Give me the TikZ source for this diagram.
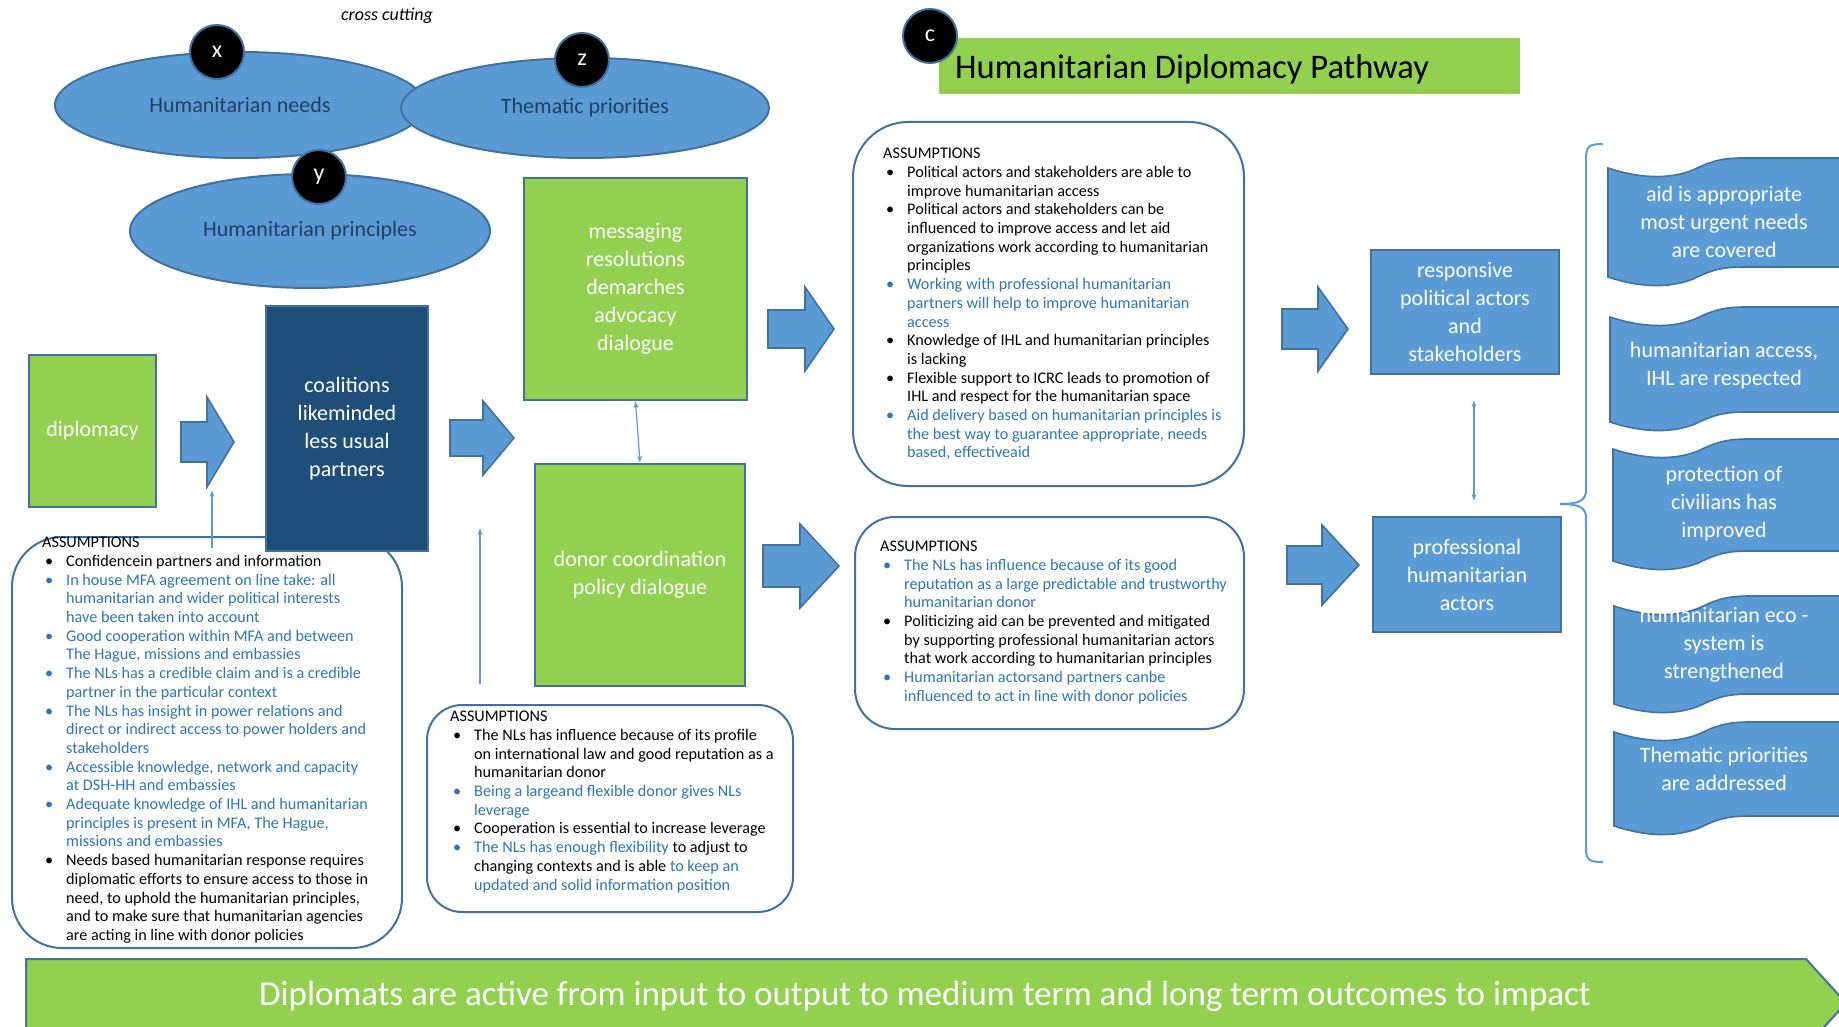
\documentclass[tikz,border=0pt]{standalone}
\usepackage{fontspec}
\setmainfont{Carlito}
\usepackage{xcolor}
\usepackage{tikz}
\usetikzlibrary{arrows}
\usetikzlibrary{shapes}
\usetikzlibrary{calc}
\usetikzlibrary{positioning}

\definecolor{hdgreen}{HTML}{92D050}
\definecolor{hdblue}{HTML}{5B9BD5}
\definecolor{hdedge}{HTML}{41719C}
\definecolor{hdnavy}{HTML}{1F4E79}
\definecolor{hdtext}{HTML}{2E75B6}
\definecolor{hdink}{HTML}{223F63}

\newcommand\boxfont{\fontsize{22}{28}\selectfont}
\newcommand\ellfont{\fontsize{22}{26}\selectfont}
\newcommand\asmfont{\fontsize{16.2}{18.7}\selectfont}
\newcommand\asmitem[2]{\hspace*{3pt}\makebox[21pt][l]{\textcolor{#1}{\textbullet}}\textcolor{#1}{#2}}
\newcommand\asmcont[2]{\hspace*{24pt}\textcolor{#1}{#2}}

\tikzset{
  greenbox/.style={rectangle, draw=hdedge, line width=2pt, fill=hdgreen, text=white, align=center, font=\boxfont, inner sep=0pt},
  navybox/.style={greenbox, fill=hdnavy},
  bluebox/.style={greenbox, fill=hdblue},
  crossell/.style={ellipse, draw=hdedge, line width=2pt, fill=hdblue, text=hdink, font=\ellfont, inner sep=0pt},
  letterdot/.style={circle, draw=hdedge, line width=2pt, fill=black, text=white, minimum size=54pt, inner sep=0pt, font=\fontsize{24}{26}\selectfont},
  asmbox/.style={rectangle, draw=hdedge, line width=2pt, fill=white},
  asmtext/.style={anchor=north west, align=left, inner sep=0pt, font=\asmfont},
  fatarr/.style={draw=hdedge, line width=1.6pt, fill=hdblue, line join=miter},
  wave/.style={draw=hdedge, line width=1.6pt, fill=hdblue},
  thinarr/.style={->, draw=hdblue, line width=1.2pt},
}

\begin{document}
\begin{tikzpicture}[x=1pt, y=-1pt, >=latex]
\useasboundingbox (0,0) rectangle (1839,1027);
\clip (0,0) rectangle (1839,1027);

%impact banner
\draw[fill=hdgreen, draw=hdedge, line width=2pt] (26,959) -- (1806,959) -- (1846,1003) -- (1806,1047) -- (26,1047) -- cycle;
\node[text=white, font=\fontsize{35}{40}\selectfont] (impact) at (925,996) {Diplomats are active from input to output to medium term and long term outcomes to impact};

%assumptions
\node[asmbox, rounded corners=50pt, minimum width=390pt, minimum height=411pt] (asm1) at (207,742.5) {};
\node[asmtext] (asm1txt) at (42,537) {ASSUMPTIONS\\
  \asmitem{black}{Confidencein partners and information}\\
  \asmitem{hdtext}{In house MFA agreement on line take: all}\\
  \asmcont{hdtext}{humanitarian and wider political interests}\\
  \asmcont{hdtext}{have been taken into account}\\
  \asmitem{hdtext}{Good cooperation within MFA and between}\\
  \asmcont{hdtext}{The Hague, missions and embassies}\\
  \asmitem{hdtext}{The NLs has a credible claim and is a credible}\\
  \asmcont{hdtext}{partner in the particular context}\\
  \asmitem{hdtext}{The NLs has insight in power relations and}\\
  \asmcont{hdtext}{direct or indirect access to power holders and}\\
  \asmcont{hdtext}{stakeholders}\\
  \asmitem{hdtext}{Accessible knowledge, network and capacity}\\
  \asmcont{hdtext}{at DSH-HH and embassies}\\
  \asmitem{hdtext}{Adequate knowledge of IHL and humanitarian}\\
  \asmcont{hdtext}{principles is present in MFA, The Hague,}\\
  \asmcont{hdtext}{missions and embassies}\\
  \asmitem{black}{Needs based humanitarian response requires}\\
  \asmcont{black}{diplomatic efforts to ensure access to those in}\\
  \asmcont{black}{need, to uphold the humanitarian principles,}\\
  \asmcont{black}{and to make sure that humanitarian agencies}\\
  \asmcont{black}{are acting in line with donor policies}};

\node[asmbox, rounded corners=35pt, minimum width=366pt, minimum height=207pt] (asm2) at (610,808.5) {};
\node[asmtext] (asm2txt) at (450,711) {ASSUMPTIONS\\
  \asmitem{black}{The NLs has influence because of its profile}\\
  \asmcont{black}{on international law and good reputation as a}\\
  \asmcont{black}{humanitarian donor}\\
  \asmitem{hdtext}{Being a largeand flexible donor gives NLs}\\
  \asmcont{hdtext}{leverage}\\
  \asmitem{black}{Cooperation is essential to increase leverage}\\
  \asmitem{hdtext}{The NLs has enough flexibility}\ \textcolor{black}{to adjust to}\\
  \asmcont{black}{changing contexts and is able}\ \textcolor{hdtext}{to keep an}\\
  \asmcont{hdtext}{updated and solid information position}};

\node[asmbox, rounded corners=55pt, minimum width=391pt, minimum height=364pt] (asm3) at (1048.5,304) {};
\node[asmtext] (asm3txt) at (883,148) {ASSUMPTIONS\\
  \asmitem{black}{Political actors and stakeholders are able to}\\
  \asmcont{black}{improve humanitarian access}\\
  \asmitem{black}{Political actors and stakeholders can be}\\
  \asmcont{black}{influenced to improve access and let aid}\\
  \asmcont{black}{organizations work according to humanitarian}\\
  \asmcont{black}{principles}\\
  \asmitem{hdtext}{Working with professional humanitarian}\\
  \asmcont{hdtext}{partners will help to improve humanitarian}\\
  \asmcont{hdtext}{access}\\
  \asmitem{black}{Knowledge of IHL and humanitarian principles}\\
  \asmcont{black}{is lacking}\\
  \asmitem{black}{Flexible support to ICRC leads to promotion of}\\
  \asmcont{black}{IHL and respect for the humanitarian space}\\
  \asmitem{hdtext}{Aid delivery based on humanitarian principles is}\\
  \asmcont{hdtext}{the best way to guarantee appropriate, needs}\\
  \asmcont{hdtext}{based, effectiveaid}};

\node[asmbox, rounded corners=40pt, minimum width=389pt, minimum height=212pt] (asm4) at (1049.5,623) {};
\node[asmtext] (asm4txt) at (880,541) {ASSUMPTIONS\\
  \asmitem{hdtext}{The NLs has influence because of its good}\\
  \asmcont{hdtext}{reputation as a large predictable and trustworthy}\\
  \asmcont{hdtext}{humanitarian donor}\\
  \asmitem{black}{Politicizing aid can be prevented and mitigated}\\
  \asmcont{black}{by supporting professional humanitarian actors}\\
  \asmcont{black}{that work according to humanitarian principles}\\
  \asmitem{hdtext}{Humanitarian actorsand partners canbe}\\
  \asmcont{hdtext}{influenced to act in line with donor policies}};

%cross cutting
\node[font=\fontsize{18}{21}\selectfont\itshape] (cross) at (387,16) {cross cutting};
\node[crossell, minimum width=370pt, minimum height=106pt] (needs) at (240,105) {Humanitarian needs};
\node[crossell, minimum width=368pt, minimum height=100pt] (thematic) at (585,108) {Thematic priorities};
\node[crossell, minimum width=360pt, minimum height=114pt] (principles) at (310,231) {Humanitarian principles};
\node[letterdot] (dotx) at (217,52) {x};
\node[letterdot] (dotz) at (582,60) {z};
\node[letterdot] (doty) at (319,177) {y};

%pathway boxes
\node[greenbox, minimum width=127pt, minimum height=152pt] (diplomacy) at (92.5,431) {diplomacy};
\node[navybox, minimum width=162pt, minimum height=245pt] (coalitions) at (347,428.5) {coalitions\\likeminded\\less usual\\partners};
\node[greenbox, minimum width=223pt, minimum height=222pt] (messaging) at (635.5,289) {messaging\\resolutions\\demarches\\advocacy\\dialogue};
\node[greenbox, minimum width=210pt, minimum height=222pt] (donor) at (640,575) {donor coordination\\policy dialogue};
\node[bluebox, minimum width=188pt, minimum height=124pt] (responsive) at (1465,312) {responsive\\political actors\\and\\stakeholders};
\node[bluebox, minimum width=188pt, minimum height=115pt] (professional) at (1467,574.5) {professional\\humanitarian\\actors};

%fat arrows
\foreach \xl/\xh/\xt/\yc/\sh/\hh in {181/207/234/442/20/45, 450/483/514/438/18/37, 768/805/834/329/19/42,
    763/800/839/566/21/42, 1282/1318/1348/329/20/42, 1287/1322/1359/565/19/40} {
  \draw[fatarr] (\xl,\yc-\sh) -- (\xh,\yc-\sh) -- (\xh,\yc-\hh) -- (\xt,\yc) -- (\xh,\yc+\hh) -- (\xh,\yc+\sh) -- (\xl,\yc+\sh) -- cycle;
}

%thin arrows
\coordinate (a1base) at (212,548);
\coordinate (a1tip) at (212,490);
\coordinate (a2base) at (480,684);
\coordinate (a2tip) at (480,528);
\draw[thinarr] (a1base) -- (a1tip);
\draw[thinarr] (a2base) -- (a2tip);
\draw[thinarr, <->] (messaging.south) -- (donor.north);
\draw[thinarr, <->] ([xshift=9pt, yshift=-25pt]responsive.south) -- ([xshift=7pt, yshift=15pt]professional.north);

%brace
\draw[draw=hdblue, line width=2pt] (1603,144) .. controls (1589,144) and (1586,146) .. (1586,160) -- (1586,490)
  .. controls (1586,500) and (1580,504) .. (1560,504) .. controls (1580,504) and (1586,508) .. (1586,518)
  -- (1586,848) .. controls (1586,860) and (1589,862) .. (1603,862);

%outcomes
\foreach \l/\t/\h/\ty/\txt [count=\i] in {1608/158/109/222/{aid is appropriate\\most urgent needs\\are covered},
    1610/307/105/366/{humanitarian access,\\IHL are respected},
    1613/439/112/504/{protection of\\civilians has\\improved},
    1614/596/98/645/{humanitarian eco -\\system is\\strengthened},
    1614/722/94/769/{Thematic priorities\\are addressed}} {
  \draw[wave, shift={(\l,\t)}] (0,10) .. controls (30,20) and (60,22) .. (85,12) .. controls (100,5) and (110,0) .. (135,0)
    -- (260,0) -- (260,\h) -- (135,\h) .. controls (110,\h) and (100,\h+5) .. (85,\h+12)
    .. controls (60,\h+22) and (30,\h+20) .. (0,\h+10) -- cycle;
  \node[text=white, align=center, font=\boxfont, inner sep=0pt] (out\i) at (1724,\ty) {\txt};
}

%title
\node[rectangle, fill=hdgreen, minimum width=581pt, minimum height=56pt, inner sep=0pt] (title) at (1229.5,66) {};
\node[anchor=west, inner sep=0pt, font=\fontsize{34.5}{40}\selectfont] (titletxt) at (955,69) {Humanitarian Diplomacy Pathway};
\node[letterdot] (dotc) at (930,36) {c};
\end{tikzpicture}
\end{document}
